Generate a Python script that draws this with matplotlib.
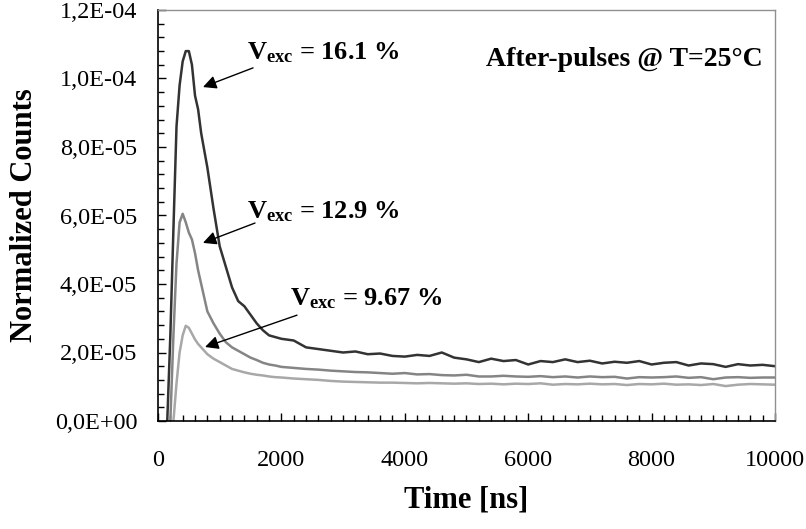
import numpy as np
import matplotlib
matplotlib.use("Agg")
import matplotlib.pyplot as plt
from matplotlib.ticker import MultipleLocator, FuncFormatter

plt.rcParams['font.family'] = ['Liberation Serif', 'DejaVu Serif']
plt.rcParams['mathtext.fontset'] = 'custom'
plt.rcParams['mathtext.rm'] = 'Liberation Serif:bold'
plt.rcParams['mathtext.bf'] = 'Liberation Serif:bold'
plt.rcParams['mathtext.default'] = 'rm'

# time grid [ns]
time_ns = [100, 150, 200, 250, 300, 350, 400, 450, 500, 550, 600, 650, 700, 800, 900,
           1000, 1100, 1200, 1300, 1400, 1500, 1600, 1700, 1800, 1900,
           2000, 2200, 2400, 2600, 2800, 3000, 3200, 3400, 3600, 3800, 4000, 4200, 4400,
           4600, 4800, 5000, 5200, 5400, 5600, 5800, 6000, 6200, 6400, 6600, 6800, 7000,
           7200, 7400, 7600, 7800, 8000, 8200, 8400, 8600, 8800, 9000, 9200, 9400, 9600,
           9800, 10000]

# counts in units of 1e-5
v161 = [np.nan, 0.0, 2.5, 5.6, 8.6, 9.8, 10.5, 10.8, 10.8, 10.4, 9.5, 9.1, 8.4, 7.4, 6.2,
        5.1, 4.5, 3.9, 3.5, 3.35, 3.1, 2.85, 2.65, 2.5, 2.45,
        2.4, 2.35, 2.15, 2.1, 2.05, 2.0, 2.03, 1.95, 1.97, 1.9, 1.88, 1.93, 1.9,
        2.0, 1.85, 1.8, 1.72, 1.82, 1.75, 1.78, 1.65, 1.75, 1.72, 1.8, 1.72, 1.76,
        1.68, 1.73, 1.7, 1.75, 1.65, 1.7, 1.72, 1.62, 1.68, 1.66, 1.58, 1.66, 1.62,
        1.64, 1.6]
v129 = [np.nan, np.nan, 0.0, 2.5, 4.6, 5.8, 6.05, 5.8, 5.5, 5.3, 4.9, 4.4, 4.0, 3.2, 2.85,
        2.55, 2.3, 2.15, 2.05, 1.95, 1.85, 1.78, 1.7, 1.65, 1.62,
        1.58, 1.55, 1.52, 1.5, 1.47, 1.45, 1.43, 1.42, 1.4, 1.38, 1.4, 1.36, 1.37,
        1.34, 1.33, 1.35, 1.3, 1.3, 1.32, 1.3, 1.29, 1.31, 1.28, 1.3, 1.27, 1.3,
        1.28, 1.29, 1.24, 1.28, 1.27, 1.28, 1.3, 1.26, 1.28, 1.22, 1.27, 1.28, 1.26,
        1.27, 1.27]
v967 = [np.nan, np.nan, np.nan, 0.0, 1.1, 2.0, 2.5, 2.78, 2.72, 2.55, 2.38, 2.25, 2.15, 1.95, 1.82,
        1.72, 1.62, 1.52, 1.47, 1.42, 1.38, 1.35, 1.33, 1.3, 1.28,
        1.27, 1.24, 1.22, 1.2, 1.17, 1.15, 1.14, 1.13, 1.12, 1.12, 1.11, 1.1, 1.11,
        1.1, 1.09, 1.1, 1.08, 1.09, 1.07, 1.09, 1.08, 1.1, 1.06, 1.08, 1.07, 1.09,
        1.07, 1.08, 1.05, 1.08, 1.07, 1.09, 1.06, 1.07, 1.05, 1.08, 1.02, 1.06, 1.08,
        1.07, 1.06]

labels = ['16.1 %', '12.9 %', '9.67 %']
colors = ['#333333', '#858585', '#a8a8a8']

t = np.array(time_ns, dtype=float)
series = [np.array(v) * 1e-5 for v in (v161, v129, v967)]

fig = plt.figure(figsize=(8.06, 5.29), dpi=100)
ax = fig.add_axes([158/806, 1-421/529, (775-158)/806, (421-10)/529])

for y, c in zip(series[::-1], colors[::-1]):
    ax.plot(t, y, color=c, lw=1.8, solid_joinstyle='round')

ax.set_xlim(0, 10000)
ax.set_ylim(0, 1.2e-4)
ax.xaxis.set_major_locator(MultipleLocator(2000))
ax.xaxis.set_minor_locator(MultipleLocator(200))
ax.yaxis.set_major_locator(MultipleLocator(2e-5))
ax.yaxis.set_minor_locator(MultipleLocator(4e-6))
ax.yaxis.set_major_formatter(FuncFormatter(lambda v, p: f"{v:.1E}".replace('.', ',')))
ax.tick_params(which='both', direction='in', top=False, right=False, labelsize=17.5, colors='black')
ax.tick_params(which='major', length=6, width=1)
ax.tick_params(which='minor', length=4, width=1)
ax.tick_params(axis='y', pad=15)
ax.tick_params(axis='x', pad=21)
for s in ['left', 'bottom']:
    ax.spines[s].set_color('black')
    ax.spines[s].set_linewidth(1.2)
for s in ['right', 'top']:
    ax.spines[s].set_color('#909090')
    ax.spines[s].set_linewidth(1.0)

ax.set_xlabel('Time [ns]', fontsize=22, fontweight='bold', labelpad=10)
ax.set_ylabel('Normalized Counts', fontsize=22, fontweight='bold', labelpad=11)

ann = [
    ('V$_{exc}$ = ' + labels[0], (1442, 1.0745e-4), (729, 9.75e-5), (1540, 1.031e-4)),
    ('V$_{exc}$ = ' + labels[1], (1442, 6.1e-5), (729, 5.2e-5), (1572, 5.78e-5)),
    ('V$_{exc}$ = ' + labels[2], (2139, 3.56e-5), (762, 2.16e-5), (2253, 3.09e-5)),
]
for txt, pos, head, tail in ann:
    ax.text(pos[0], pos[1], txt, fontsize=19, fontweight='bold', ha='left', va='center')
    ax.annotate('', xy=head, xytext=tail,
                arrowprops=dict(arrowstyle='-|>', color='black', lw=1.0, mutation_scale=20,
                                shrinkA=0, shrinkB=0))

ax.text(0.98, 0.88, 'After-pulses @ T=25°C', transform=ax.transAxes, fontsize=20,
        fontweight='bold', ha='right', va='center')

fig.savefig('out.png', dpi=100)
